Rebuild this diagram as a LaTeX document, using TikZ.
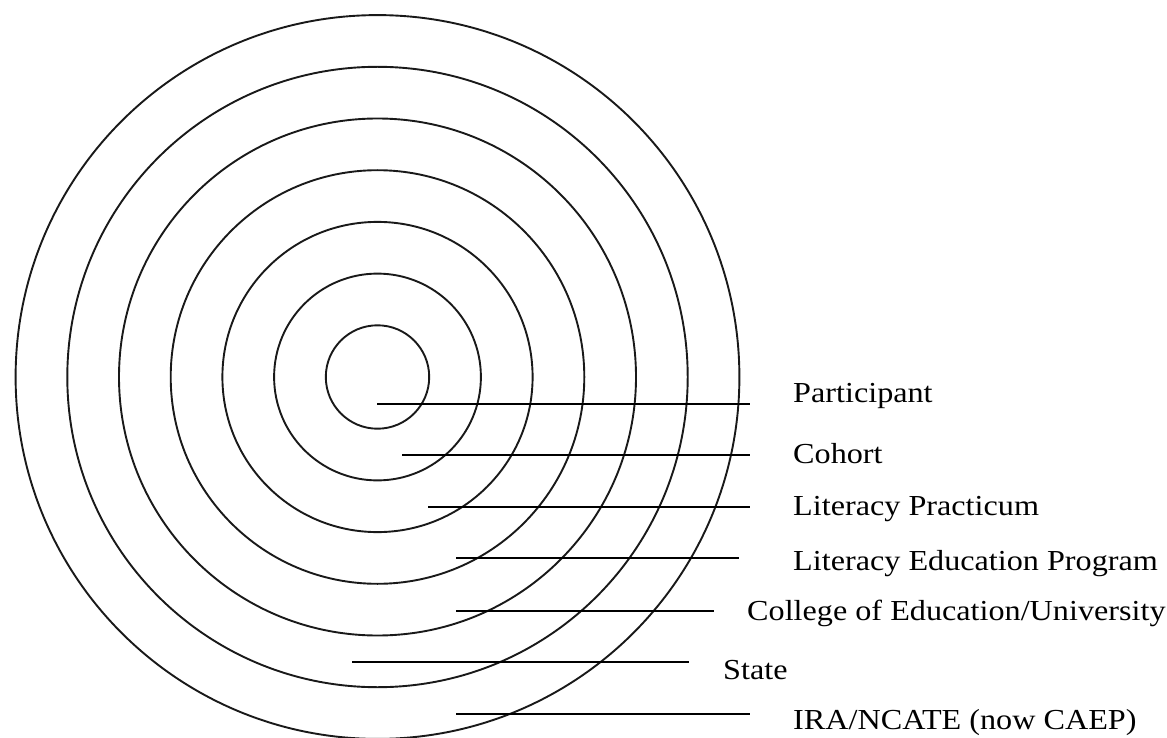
\documentclass[tikz,border=0pt]{standalone}
\usepackage{fontspec}
\setmainfont{Liberation Serif}[FakeStretch=1.11]
\usepackage{tikz}
\usetikzlibrary{positioning, calc}

\tikzset{
    ring/.style={line width=1.9pt, black!90},
    leader/.style={line width=1.7pt, black},
    tag/.style={anchor=base west, inner sep=0pt, font=\fontsize{29}{32}\selectfont}
}

\begin{document}
\begin{tikzpicture}[x=1pt, y=-1pt]
    % Frame
    \useasboundingbox (0,0) rectangle (1167,738);

    % Rings
    \coordinate (ctr) at (377.5,377);
    \foreach \r in {1,...,7} {
        \draw[ring] (ctr) circle[radius={\r*51.7pt}];
    }

    % Leaders and labels
    \foreach \i/\y/\xs/\xe/\xl/\yl/\txt in {
        1/404/377/750/793/402/Participant,
        2/455/402/750/793/463/Cohort,
        3/507/428/750/793/515.7/Literacy Practicum,
        4/558/456/739/793/570/Literacy Education Program,
        5/611/456/714/747/620/{College of Education/University},
        6/662/352/689/723/679/State,
        7/714/456/750/793/729/{IRA/NCATE (now CAEP)}} {
        \coordinate (a\i) at (\xs,\y);
        \coordinate (b\i) at (\xe,\y);
        \draw[leader] (a\i) -- (b\i);
        \node[tag] (lbl\i) at (\xl,\yl) {\txt};
    }

\end{tikzpicture}
\end{document}
